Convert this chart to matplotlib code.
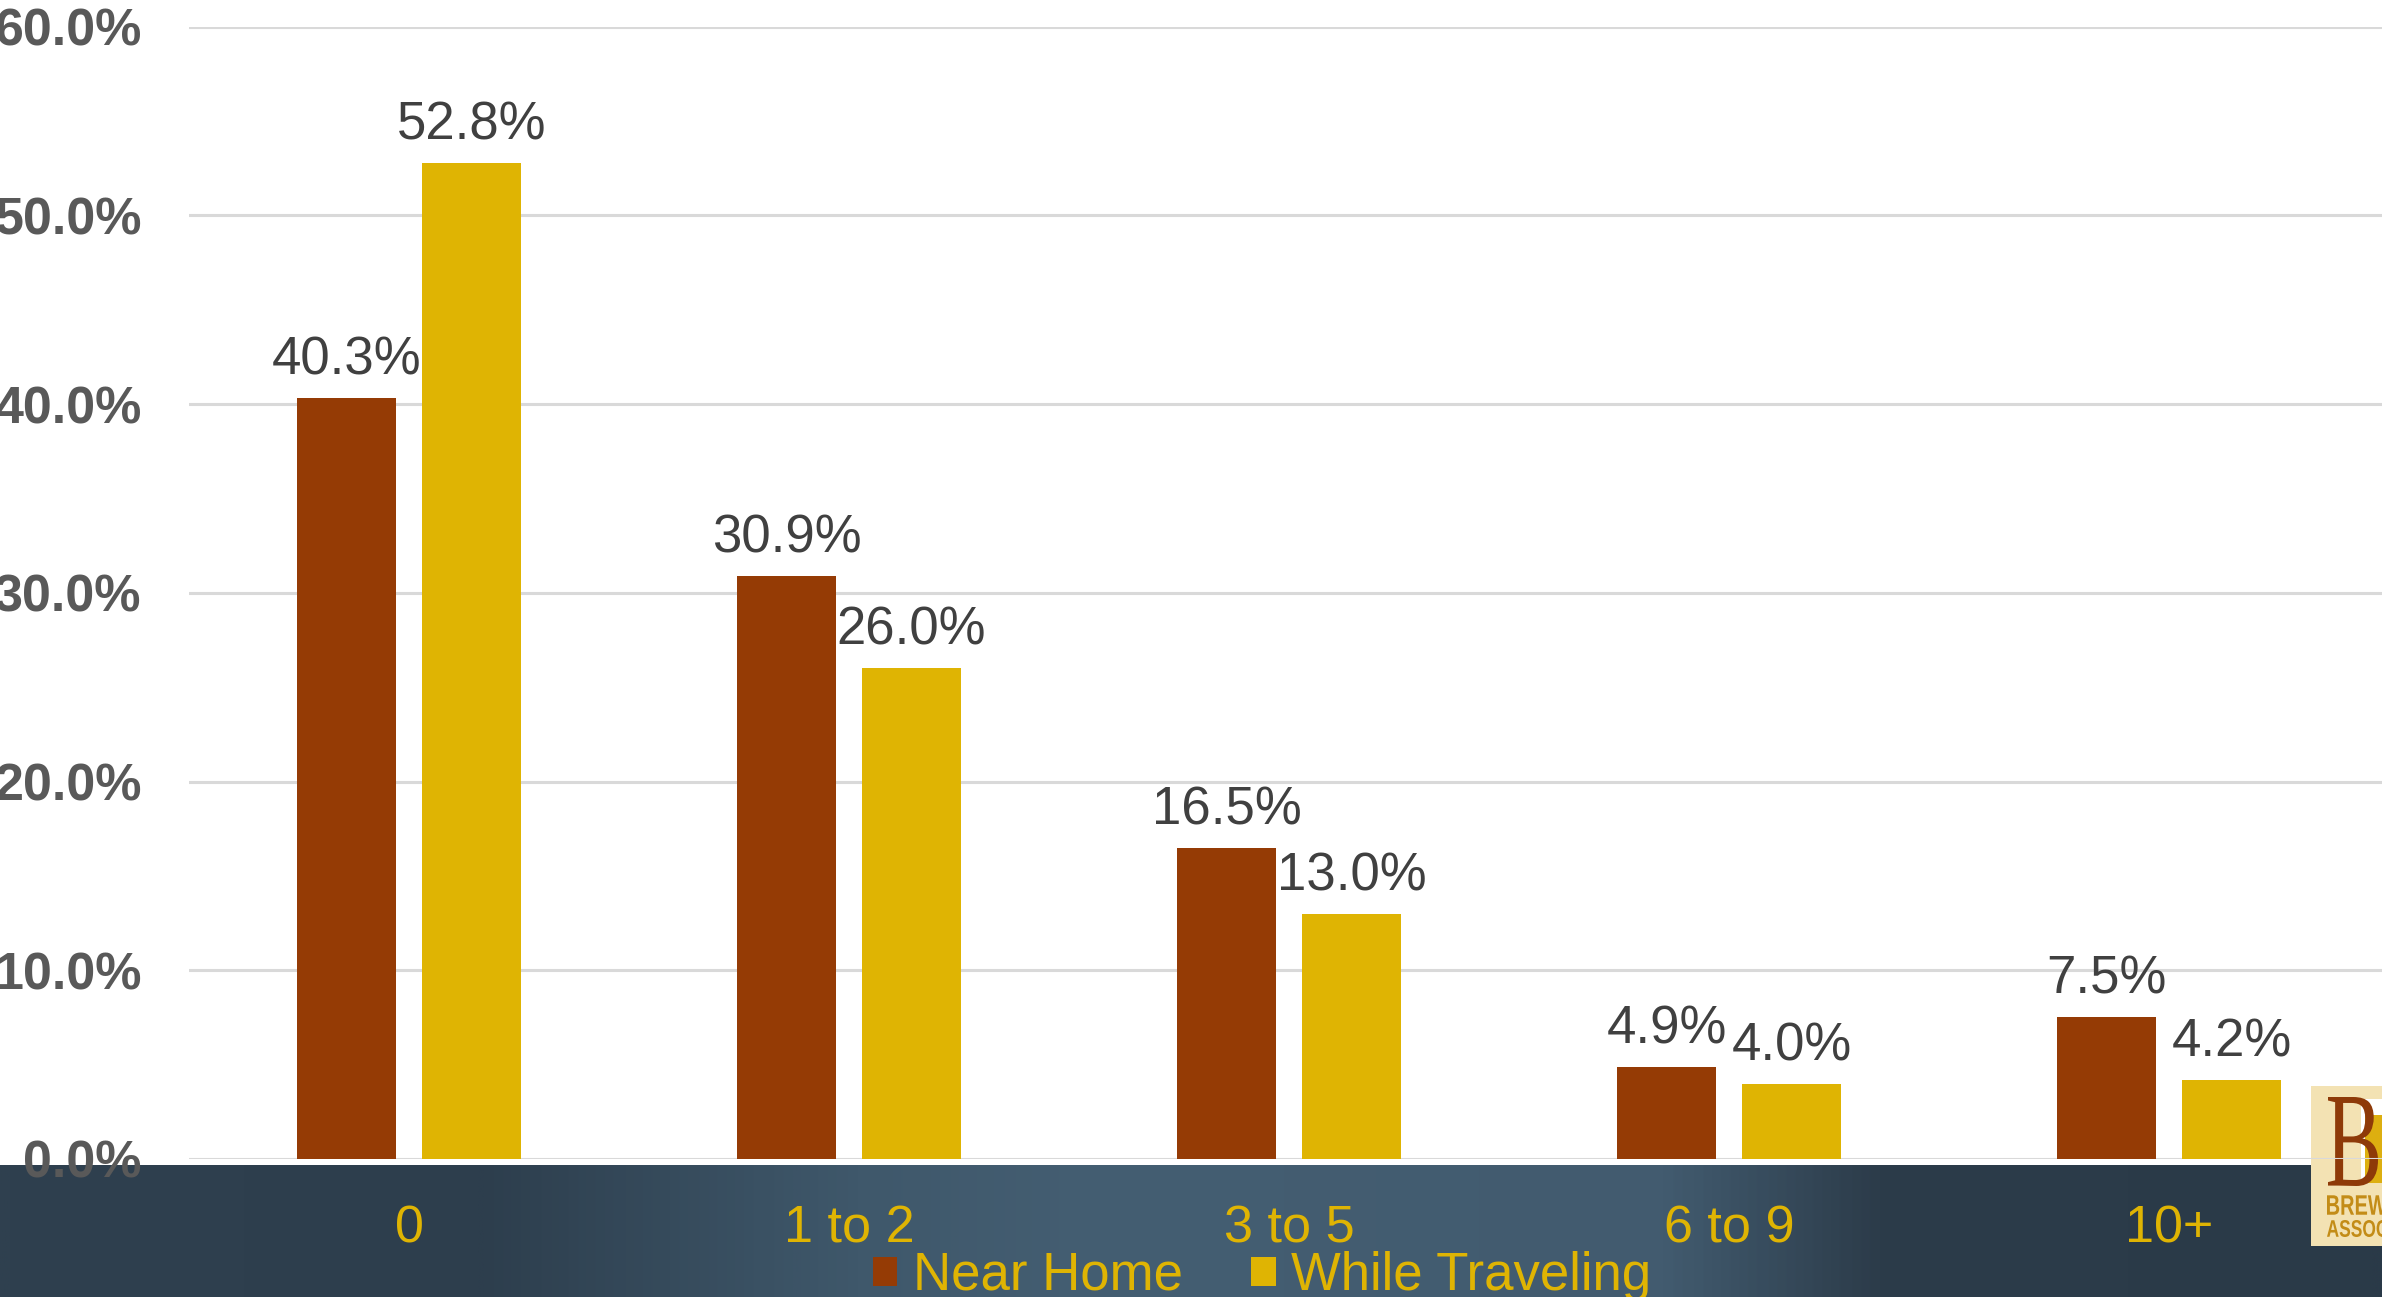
import matplotlib
matplotlib.use('Agg')
import matplotlib.pyplot as plt
import numpy as np
from matplotlib.patches import Rectangle, PathPatch
from matplotlib.textpath import TextPath
from matplotlib.font_manager import FontProperties
from matplotlib.transforms import Affine2D
from matplotlib.colors import LinearSegmentedColormap

plt.rcParams['font.family'] = ['Liberation Sans', 'DejaVu Sans']

# data
categories = ['0', '1 to 2', '3 to 5', '6 to 9', '10+']
near_home = [40.3, 30.9, 16.5, 4.9, 7.5]
while_traveling = [52.8, 26.0, 13.0, 4.0, 4.2]
series_names = ['Near Home', 'While Traveling']
yticks = [0, 10, 20, 30, 40, 50, 60]

BROWN = '#953B05'
GOLD = '#DFB403'

W, H = 2382, 1297
fig = plt.figure(figsize=(W / 100, H / 100), dpi=100)
fig.patch.set_facecolor('white')

# dark gradient band along the bottom
band = fig.add_axes([0, 0, 1, 132 / H])
stops = [(0.0, '#2f404f'), (0.2, '#2d3e4d'), (0.36, '#3f586b'), (0.46, '#445e72'),
         (0.7, '#425b6f'), (0.79, '#2c3c4a'), (1.0, '#2a3a48')]
cmap = LinearSegmentedColormap.from_list('band', stops)
band.imshow(np.linspace(0, 1, 800)[None, :], aspect='auto', cmap=cmap, extent=[0, 1, 0, 1])
band.axis('off')


def fit_text(axx, s, x0, y0, w, h, color, family, weight='normal'):
    # stretch a text outline into a box (logo lettering)
    tp = TextPath((0, 0), s, size=1, prop=FontProperties(family=family, weight=weight))
    bb = tp.get_extents()
    tr = Affine2D().translate(-bb.x0, -bb.y0).scale(w / bb.width, h / bb.height).translate(x0, y0)
    axx.add_patch(PathPatch(tr.transform_path(tp), facecolor=color, lw=0))


# Brewers Association logo, cut by the right edge
logo = fig.add_axes([2311 / W, (H - 1246) / H, (W - 2311) / W, 160 / H])
logo.set_xlim(0, W - 2311)
logo.set_ylim(0, 160)
logo.axis('off')
logo.add_patch(Rectangle((0, 0), 100, 160, facecolor='#F3E2B3', lw=0))
logo.add_patch(Rectangle((50, 63), 40, 84, facecolor='white', lw=0))
logo.add_patch(Rectangle((54, 63), 40, 68, facecolor='#DDAF10', lw=0))
fit_text(logo, 'B', 17, 60, 50, 89, '#8E3A08', ['Liberation Serif', 'DejaVu Serif'])
fit_text(logo, 'BREWERS', 16, 31, 100, 20, '#C38C17', ['Liberation Sans Narrow', 'Liberation Sans'], 'bold')
fit_text(logo, 'ASSOCIATION', 16, 9, 118, 17, '#C38C17', ['Liberation Sans Narrow', 'Liberation Sans'], 'bold')

# main chart
ax = fig.add_axes([189 / W, (H - 1159) / H, 2200 / W, (1159 - 26.7) / H])
ax.patch.set_alpha(0)
x = np.arange(len(categories))
bw = 0.223
off = 0.142
b1 = ax.bar(x - off, near_home, bw, color=BROWN, label=series_names[0], zorder=3)
b2 = ax.bar(x + off, while_traveling, bw, color=GOLD, label=series_names[1], zorder=3)

ax.bar_label(b1, labels=[f'{v:.1f}%' for v in near_home], padding=9, fontsize=38, color='#404040')
ax.bar_label(b2, labels=[f'{v:.1f}%' for v in while_traveling], padding=9, fontsize=38, color='#404040')

ax.set_xlim(-0.5, 4.5)
ax.set_ylim(0, 60)
ax.set_yticks(yticks)
ax.set_yticklabels([f'{v:.1f}%' for v in yticks], fontsize=37.5, fontweight='bold', color='#595959')
ax.yaxis.grid(True, color='#D9D9D9', linewidth=2.2)
ax.set_axisbelow(True)
for s in ax.spines.values():
    s.set_visible(False)
ax.tick_params(axis='y', length=0, pad=34)
ax.set_xticks(x)
ax.set_xticklabels(categories, fontsize=37.5, color=GOLD)
ax.tick_params(axis='x', length=0, pad=33)

fig.legend(handles=[b1, b2], labels=series_names, loc='center',
           bbox_to_anchor=(1262 / W, 1 - 1276 / H), ncol=2, frameon=False,
           fontsize=38, labelcolor=GOLD, handlelength=0.46, handleheight=0.46,
           handletextpad=0.29, columnspacing=1.3, borderpad=0, borderaxespad=0)

fig.savefig('out.png', dpi=100)
